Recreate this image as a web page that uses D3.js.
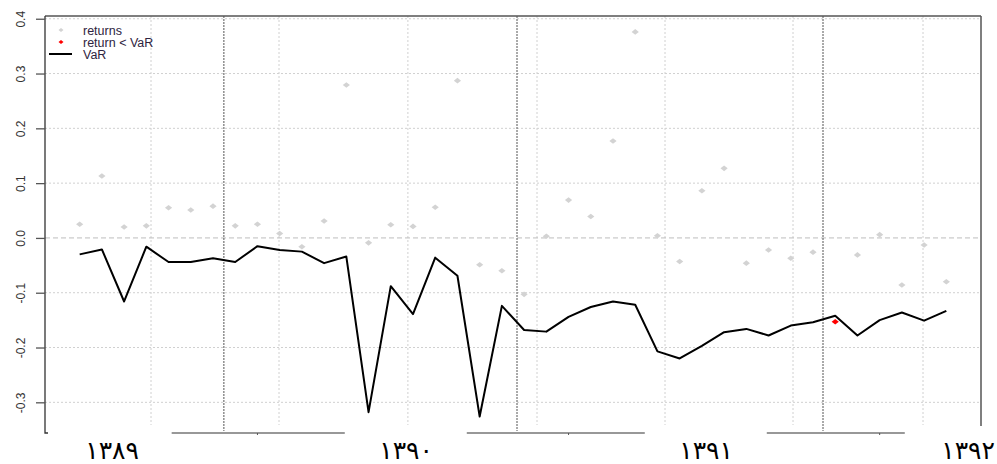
<!DOCTYPE html>
<html>
<head>
<meta charset="utf-8">
<script src="https://cdn.jsdelivr.net/npm/d3@7"></script>
<style>
	body { margin: 0; background: #fff; }
	svg { display: block; font-family: "Liberation Sans", Arial, sans-serif; }
</style>
</head>
<body>
<div id="root"></div>
<script>
// monthly returns and their VaR estimate (index 1..40)
const returns = [0.025, 0.113, 0.020, 0.022, 0.055, 0.051, 0.058, 0.022, 0.025, 0.008,
	-0.016, 0.031, 0.279, -0.009, 0.024, 0.021, 0.056, 0.287, -0.049, -0.060,
	-0.103, 0.003, 0.069, 0.039, 0.177, 0.376, 0.004, -0.043, 0.086, 0.127,
	-0.046, -0.022, -0.037, -0.026, -0.153, -0.031, 0.006, -0.086, -0.013, -0.080]
const VaR = [-0.030, -0.021, -0.116, -0.016, -0.044, -0.044, -0.037, -0.044, -0.015, -0.022,
	-0.025, -0.046, -0.034, -0.318, -0.088, -0.139, -0.036, -0.069, -0.326, -0.124,
	-0.168, -0.171, -0.144, -0.126, -0.116, -0.122, -0.207, -0.220, -0.197, -0.172,
	-0.166, -0.178, -0.160, -0.154, -0.142, -0.178, -0.150, -0.136, -0.151, -0.133]

const yTicks = [-0.3, -0.2, -0.1, 0.0, 0.1, 0.2, 0.3, 0.4]
const xGrid = [4.21, 9.97, 15.77, 21.58, 27.34, 33.1, 38.95]
const yearLines = [7.49, 20.68, 34.45]
const yearLabels = ["۱۳۸۹", "۱۳۹۰", "۱۳۹۱", "۱۳۹۲"]
const yearPos = [2.46, 15.69, 29.19, 40.98]
const axisPieces = [[5.14, 12.93], [18.42, 26.43], [31.92, 38.13]]
const axisTicks = [9, 23, 37]

const width = 997, height = 464
const margin = {left: 45, right: 16, top: 16, bottom: 31}

const svg = d3.select('#root').append('svg')
	.attr('width', width)
	.attr('height', height)

const x = d3.scaleLinear()
	.domain([1 - 39 * 0.04, 40 + 39 * 0.04])
	.range([margin.left, width - margin.right])
const y = d3.scaleLinear()
	.domain([-0.356, 0.405])
	.range([height - margin.bottom, margin.top])

// grid
svg.append('g').selectAll('line')
	.data(yTicks.filter(d => d !== 0))
	.enter().append('line')
	.attr('x1', x.range()[0]).attr('x2', x.range()[1])
	.attr('y1', d => y(d)).attr('y2', d => y(d))
	.attr('stroke', '#d0d0d0')
	.attr('stroke-dasharray', '2,2')

svg.append('g').selectAll('line')
	.data(xGrid)
	.enter().append('line')
	.attr('x1', d => x(d)).attr('x2', d => x(d))
	.attr('y1', y.range()[1]).attr('y2', y.range()[0] - 8)
	.attr('stroke', '#d0d0d0')
	.attr('stroke-dasharray', '2,2')

svg.append('line')
	.attr('x1', x.range()[0]).attr('x2', x.range()[1])
	.attr('y1', y(0)).attr('y2', y(0))
	.attr('stroke', '#bdbdbd')
	.attr('stroke-dasharray', '5,3')

// year separators
svg.append('g').selectAll('line')
	.data(yearLines)
	.enter().append('line')
	.attr('x1', d => x(d)).attr('x2', d => x(d))
	.attr('y1', y.range()[1]).attr('y2', y.range()[0] - 2)
	.attr('stroke', '#555')
	.attr('stroke-width', 1)
	.attr('stroke-dasharray', '2,1')

// frame
svg.append('line')
	.attr('x1', x.range()[0]).attr('x2', x.range()[1])
	.attr('y1', y.range()[1]).attr('y2', y.range()[1])
	.attr('stroke', '#555').attr('stroke-width', 1.5)
svg.append('line')
	.attr('x1', x.range()[1]).attr('x2', x.range()[1])
	.attr('y1', y.range()[1]).attr('y2', y.range()[0] - 7)
	.attr('stroke', '#555').attr('stroke-width', 1.5)

svg.append('g').selectAll('line')
	.data(axisPieces)
	.enter().append('line')
	.attr('x1', d => x(d[0])).attr('x2', d => x(d[1]))
	.attr('y1', y.range()[0]).attr('y2', y.range()[0])
	.attr('stroke', '#333').attr('stroke-width', 1.2)
svg.append('g').selectAll('line')
	.data(axisTicks)
	.enter().append('line')
	.attr('x1', d => x(d)).attr('x2', d => x(d))
	.attr('y1', y.range()[0]).attr('y2', y.range()[0] + 2)
	.attr('stroke', '#555')

// left axis
const yAxis = svg.append('g')
	.attr('transform', `translate(${margin.left},0)`)
	.call(d3.axisLeft(y).tickValues(yTicks).tickFormat(d3.format('.1f')).tickSize(9).tickSizeOuter(0))
yAxis.select('.domain')
	.attr('d', `M0,${y.range()[1]}V${y.range()[0]}H3`)
	.attr('stroke', '#333').attr('stroke-width', 1.3)
yAxis.selectAll('.tick line').attr('stroke', '#555').attr('stroke-width', 1.3)
yAxis.selectAll('.tick text')
	.attr('x', null).attr('dy', null)
	.attr('transform', 'translate(-20,0) rotate(-90)')
	.attr('text-anchor', 'middle')
	.attr('font-size', 12)
	.attr('fill', '#333')
	.text(d => d3.format('.1f')(d).replace('−', '-'))

// year labels
svg.append('g').selectAll('text')
	.data(yearLabels)
	.enter().append('text')
	.attr('x', (d, i) => x(yearPos[i]))
	.attr('y', 459)
	.attr('text-anchor', 'middle')
	.attr('font-family', '"DejaVu Sans", sans-serif')
	.attr('font-size', 25)
	.attr('letter-spacing', 3)
	.attr('fill', '#000')
	.text(d => d)

// marks
const diamond = (cx, cy, w, h) => `M${cx - w},${cy}L${cx},${cy - h}L${cx + w},${cy}L${cx},${cy + h}Z`

svg.append('g').selectAll('path')
	.data(returns)
	.enter().append('path')
	.attr('d', (d, i) => diamond(x(i + 1), y(d), 3.6, 2.8))
	.attr('fill', (d, i) => d < VaR[i] ? 'red' : '#d3d3d3')

const line = d3.line()
	.x((d, i) => x(i + 1))
	.y(d => y(d))
svg.append('path')
	.datum(VaR)
	.attr('d', line)
	.attr('fill', 'none')
	.attr('stroke', '#000')
	.attr('stroke-width', 2)
	.attr('stroke-linejoin', 'round')

// legend
const legend = svg.append('g').attr('transform', 'translate(49,31)')
const items = ['returns', 'return < VaR', 'VaR']
legend.selectAll('text')
	.data(items)
	.enter().append('text')
	.attr('x', 34)
	.attr('y', (d, i) => i * 12 + 4)
	.attr('font-size', 12.5)
	.attr('fill', '#2e2440')
	.text(d => d)
legend.append('path').attr('d', diamond(12, -1, 2.5, 2)).attr('fill', '#d3d3d3')
legend.append('path').attr('d', diamond(12, 11, 2.5, 2)).attr('fill', 'red')
legend.append('line')
	.attr('x1', 0).attr('x2', 23)
	.attr('y1', 23).attr('y2', 23)
	.attr('stroke', '#000').attr('stroke-width', 2)
</script>
</body>
</html>
